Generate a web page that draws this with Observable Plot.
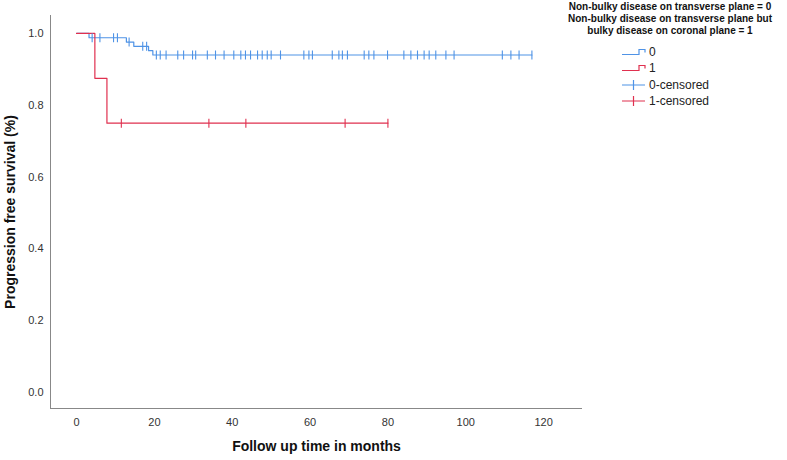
<!DOCTYPE html>
<html>
<head>
<meta charset="utf-8">
<script src="https://cdn.jsdelivr.net/npm/d3@7"></script>
<script src="https://cdn.jsdelivr.net/npm/@observablehq/plot@0.6"></script>
<style>
  html, body { margin: 0; padding: 0; background: #fff; }
  #wrap { position: relative; width: 787px; height: 460px; font-family: "Liberation Sans", Arial, sans-serif; }
  #legend { position: absolute; left: 0; top: 0; width: 787px; height: 120px; pointer-events: none; }
  .ltitle { position: absolute; left: 556px; width: 228px; top: 1px; text-align: center; font-weight: bold; font-size: 10px; line-height: 12px; color: #111; }
  .litem { position: absolute; left: 622px; height: 14px; display: flex; align-items: center; font-size: 12px; color: #222; }
  .litem svg { margin-right: 3px; }
</style>
</head>
<body>
<div id="wrap"></div>
<script>
// ---- data ----
const groups = ["0", "1"];
const groupColors = ["#4f93e6", "#e0304f"];
const legendLabels = ["0", "1", "0-censored", "1-censored"];
const legendTitle = ["Non-bulky disease on transverse plane = 0", "Non-bulky disease on transverse plane but", "bulky disease on coronal plane = 1"];

// Group 0 (blue): step times and survival
const blueTime = [0, 3.2, 12.8, 14.7, 18.5, 19.6, 117];
const blueSurv = [1, 0.988, 0.976, 0.964, 0.952, 0.94, 0.94];
const blueCensored = [4, 6, 9.5, 10.5, 13.5, 17, 18, 20.5, 21.5, 23, 26, 27.5, 29.8, 30.6, 33.6, 35.7, 37.9, 40.4, 42.2, 43.4, 44.7, 46.5, 47.7, 49, 50, 52.4, 58.4, 59.7, 60.6, 65.7, 67.4, 68.3, 69.6, 73.9, 75.1, 76.4, 79.9, 84.1, 85.9, 87.6, 89.3, 90.6, 92.3, 94.9, 97, 109.4, 111.6, 113.7, 117];

// Group 1 (red)
const redTime = [0, 4.7, 7.8, 80];
const redSurv = [1, 0.875, 0.75, 0.75];
const redCensored = [11.5, 34, 43.5, 69, 80];

const xTicks = [0, 20, 40, 60, 80, 100, 120];
const yTicks = [0, 0.2, 0.4, 0.6, 0.8, 1.0];
const xDomain = [-6.7, 130];
const yDomain = [-0.045, 1.05];

// ---- build tables ----
function stepRows(times, surv, g) { return times.map((t, i) => ({time: t, surv: surv[i], group: g})); }
function survAt(times, surv, t) { let s = surv[0]; for (let i = 0; i < times.length; i++) if (times[i] <= t) s = surv[i]; return s; }
const lines = [...stepRows(blueTime, blueSurv, "0"), ...stepRows(redTime, redSurv, "1")];
const cens = [
  ...blueCensored.map(t => ({time: t, surv: survAt(blueTime, blueSurv, t), group: "0"})),
  ...redCensored.map(t => ({time: t, surv: survAt(redTime, redSurv, t), group: "1"}))
];
const vtick = { draw(ctx, size) { const r = Math.sqrt(size / Math.PI); ctx.moveTo(0, -r); ctx.lineTo(0, r); } };

const chart = Plot.plot({
  width: 787, height: 460,
  marginLeft: 50, marginRight: 205, marginTop: 15, marginBottom: 52,
  style: { fontFamily: "Liberation Sans, Arial, sans-serif", background: "#fff" },
  x: { domain: xDomain },
  y: { domain: yDomain },
  color: { domain: groups, range: groupColors },
  marks: [
    Plot.ruleX([xDomain[0]], { stroke: "#888", strokeWidth: 1 }),
    Plot.ruleY([yDomain[0]], { stroke: "#888", strokeWidth: 1 }),
    Plot.axisX({ ticks: xTicks, tickSize: 0, tickPadding: 10, fontSize: 11, fill: "#333", label: "Follow up time in months", labelAnchor: "center", labelArrow: "none", labelOffset: 42 }),
    Plot.axisY({ ticks: yTicks, tickFormat: d3.format(".1f"), tickSize: 0, tickPadding: 7, fontSize: 11, fill: "#333", label: "Progression free survival (%)", labelAnchor: "center", labelArrow: "none", labelOffset: 45 }),
    Plot.line(lines, { x: "time", y: "surv", z: "group", stroke: "group", curve: "step-after", strokeWidth: 1.2 }),
    Plot.dot(cens, { x: "time", y: "surv", stroke: "group", fill: "none", symbol: vtick, r: 4.5, strokeWidth: 1.1 })
  ]
});
d3.select(chart).selectAll("g[aria-label='x-axis label'] text, g[aria-label='y-axis label'] text")
  .style("font-size", "14px").style("font-weight", "bold").style("fill", "#111");

const wrap = document.getElementById("wrap");
wrap.appendChild(chart);

// legend
const leg = document.createElement("div");
leg.id = "legend";
const t = document.createElement("div");
t.className = "ltitle";
t.innerHTML = legendTitle.map(s => `<div>${s}</div>`).join("");
leg.appendChild(t);
const itemTops = [45, 61, 78, 94];
legendLabels.forEach((lab, i) => {
  const col = groupColors[i % 2];
  const censored = i >= 2;
  const d = document.createElement("div");
  d.className = "litem";
  d.style.top = itemTops[i] + "px";
  const icon = censored
    ? `<svg width="24" height="12"><path d="M0,6H23M11.5,1V11" stroke="${col}" stroke-width="1.2" fill="none"/></svg>`
    : `<svg width="24" height="12"><path d="M0,8.5H17V3.5H23V6.5" stroke="${col}" stroke-width="1.2" fill="none"/></svg>`;
  d.innerHTML = icon + `<span>${lab}</span>`;
  leg.appendChild(d);
});
wrap.appendChild(leg);
</script>
</body>
</html>
